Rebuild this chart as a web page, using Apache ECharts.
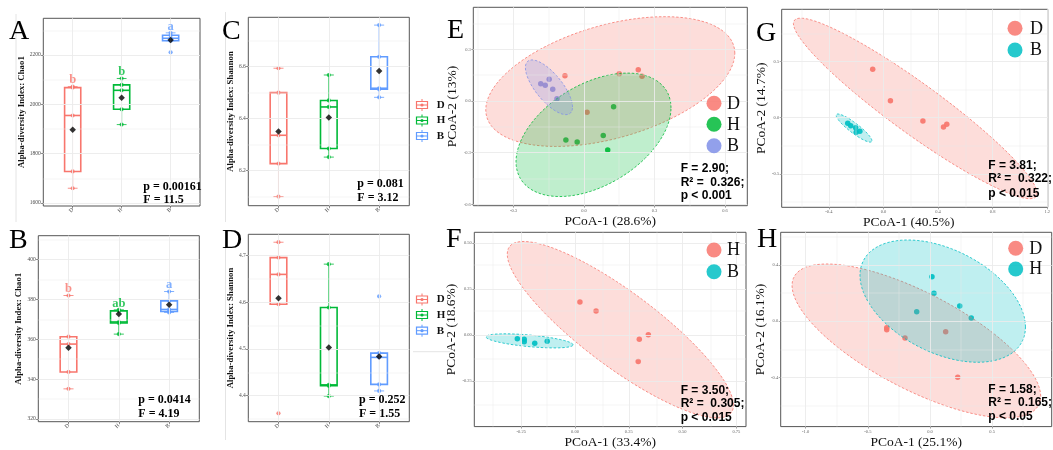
<!DOCTYPE html>
<html><head><meta charset="utf-8">
<script src="https://cdn.jsdelivr.net/npm/echarts@6/dist/echarts.min.js"></script>
<style>html,body{margin:0;padding:0;background:#fff}#c{width:1053px;height:450px}</style>
</head><body><div id="c"></div>
<script>
// ---------------- DATA ----------------
const GROUPS = ['D', 'H', 'B'];

// Panel A: Chao1 (sample 1)
const A_D = [1660, 1728, 1955, 2068, 2072];
const A_H = [1918, 1980, 2057, 2079, 2105];
const A_B = [2211, 2258, 2268, 2280, 2290];
const A_MEAN = [1897, 2027, 2261];
const A_LETTERS = ['b', 'b', 'a'];
const A_YTICKS = [1600, 1800, 2000, 2200];
const A_STATS = ['p = 0.00161', 'F = 11.5'];

// Panel B: Chao1 (sample 2)
const B_D = [335.1, 343.6, 357.6, 361.3, 382];
const B_H = [362.6, 368.2, 368.7, 374.3, 374.8];
const B_B = [373.5, 374, 375, 379.3, 384];
const B_MEAN = [355.8, 372.7, 377.3];
const B_LETTERS = ['b', 'ab', 'a'];
const B_YTICKS = [320, 340, 360, 380, 400];
const B_STATS = ['p = 0.0414', 'F = 4.19'];

// Panel C: Shannon (sample 1)
const C_D = [6.1, 6.227, 6.336, 6.5, 6.594];
const C_H = [6.252, 6.285, 6.445, 6.47, 6.568];
const C_B = [6.482, 6.513, 6.517, 6.638, 6.76];
const C_MEAN = [6.351, 6.404, 6.583];
const C_YTICKS = [6.2, 6.4, 6.6];
const C_STATS = ['p = 0.081', 'F = 3.12'];

// Panel D: Shannon (sample 2)
const D_D = [4.362, 4.596, 4.66, 4.696, 4.729];
const D_H = [4.399, 4.421, 4.423, 4.589, 4.682];
const D_B = [4.41, 4.424, 4.482, 4.491, 4.613];
const D_MEAN = [4.609, 4.503, 4.484];
const D_YTICKS = [4.4, 4.5, 4.6, 4.7];
const D_STATS = ['p = 0.252', 'F = 1.55'];

// Panel E: PCoA D / H / B
const E_D = [[-0.081, 0.147], [0.150, 0.158], [0.231, 0.182], [0.247, 0.143], [0.013, -0.066]];
const E_H = [[0.126, -0.033], [-0.077, -0.226], [-0.029, -0.238], [0.082, -0.201], [0.101, -0.284]];
const E_B = [[-0.184, 0.100], [-0.165, 0.091], [-0.148, 0.126], [-0.133, 0.068], [-0.115, 0.013]];
const E_XTICKS = [-0.3, 0, 0.3, 0.6];
const E_YTICKS = [-0.6, -0.3, 0, 0.3];
const E_STATS = ['F = 2.90;', 'R\u00B2 =  0.326;', 'p < 0.001'];

// Panel F: PCoA H / B
const F_H = [[0.023, 0.179], [0.098, 0.131], [0.299, -0.023], [0.341, 0.002], [0.294, -0.144]];
const F_B = [[-0.268, -0.020], [-0.236, -0.023], [-0.236, -0.037], [-0.187, -0.045], [-0.129, -0.034]];
const F_XTICKS = [-0.25, 0, 0.25, 0.5, 0.75];
const F_YTICKS = [-0.25, 0, 0.25, 0.5];
const F_STATS = ['F = 3.50;', 'R\u00B2 =  0.305;', 'p < 0.015'];

// Panel G: PCoA D / B
const G_D = [[-0.079, 0.431], [0.051, 0.151], [0.289, -0.029], [0.440, -0.082], [0.464, -0.059]];
const G_B = [[-0.262, -0.050], [-0.240, -0.071], [-0.204, -0.089], [-0.200, -0.130], [-0.173, -0.121]];
const G_XTICKS = [-0.4, 0, 0.4, 0.8, 1.2];
const G_YTICKS = [-0.5, 0, 0.5];
const G_STATS = ['F = 3.81;', 'R\u00B2 =  0.322;', 'p < 0.015'];

// Panel H: PCoA D / H
const H_D = [[-0.348, -0.047], [-0.348, -0.061], [-0.201, -0.119], [0.126, -0.075], [0.223, -0.398]];
const H_H = [[0.016, 0.316], [0.032, 0.199], [0.239, 0.109], [0.332, 0.023], [-0.107, 0.067]];
const H_XTICKS = [-1.0, -0.5, 0, 0.5];
const H_YTICKS = [-0.4, 0, 0.4];
const H_STATS = ['F = 1.58;', 'R\u00B2 =  0.165;', 'p < 0.05'];

// ---------------- STYLE / LAYOUT ----------------
const SERIF = "'Liberation Serif','Times New Roman',serif";
const SANS = "'Liberation Sans',Arial,sans-serif";
const BOX_COLORS = ['#F8766D', '#00BA38', '#619CFF'];
const C_SALMON = '#F8766D', C_GREEN = '#00BA38', C_PERI = '#7F8FE8', C_CYAN = '#00BFC4';
const LEVEL = 0.95;

function rgba(hex, a) {
  const n = parseInt(hex.slice(1), 16);
  return 'rgba(' + (n >> 16 & 255) + ',' + (n >> 8 & 255) + ',' + (n & 255) + ',' + a + ')';
}
function minorOf(ticks, lo, hi) {
  const out = [];
  if (ticks.length < 2) return out;
  const step = ticks[1] - ticks[0];
  const cand = [ticks[0] - step / 2];
  for (let i = 0; i < ticks.length; i++) cand.push(ticks[i] + step / 2);
  cand.forEach(v => { if (v > lo && v < hi) out.push(v); });
  return out;
}
function boxStats(vals) {
  const s = vals.slice().sort((a, b) => a - b);
  const q = p => { const h = (s.length - 1) * p, l = Math.floor(h); return s[l] + (h - l) * ((s[l + 1] !== undefined ? s[l + 1] : s[l]) - s[l]); };
  const q1 = q(0.25), med = q(0.5), q3 = q(0.75), iqr = q3 - q1;
  const inr = s.filter(v => v >= q1 - 1.5 * iqr && v <= q3 + 1.5 * iqr);
  return [Math.min.apply(null, inr), q1, med, q3, Math.max.apply(null, inr)];
}
function ellipsePts(pts) {
  const n = pts.length;
  let mx = 0, my = 0;
  pts.forEach(p => { mx += p[0]; my += p[1]; });
  mx /= n; my /= n;
  let sxx = 0, syy = 0, sxy = 0;
  pts.forEach(p => { const dx = p[0] - mx, dy = p[1] - my; sxx += dx * dx; syy += dy * dy; sxy += dx * dy; });
  sxx /= (n - 1); syy /= (n - 1); sxy /= (n - 1);
  const d = n - 1;
  const fq = d / 2 * (Math.pow(1 - LEVEL, -2 / d) - 1);
  const r = Math.sqrt(2 * fq);
  const l11 = Math.sqrt(sxx), l21 = sxy / l11, l22 = Math.sqrt(Math.max(syy - l21 * l21, 0));
  const out = [];
  for (let k = 0; k <= 90; k++) {
    const t = 2 * Math.PI * k / 90, c = Math.cos(t), s = Math.sin(t);
    out.push([mx + r * l11 * c, my + r * (l21 * c + l22 * s)]);
  }
  return out;
}

const boxPanels = [
  { letter: 'A', groups: [A_D, A_H, A_B], means: A_MEAN, letters: A_LETTERS, yticks: A_YTICKS, dec: 0,
    frame: [43.3, 18.3, 200, 206], ymin: 1588, ymax: 2349, yname: 'Alpha-diversity Index: Chao1', gap: 17,
    stats: A_STATS, statXY: [143.3, 186.5, 200], letXY: [9, 32] },
  { letter: 'B', groups: [B_D, B_H, B_B], means: B_MEAN, letters: B_LETTERS, yticks: B_YTICKS, dec: 0,
    frame: [38.3, 235.7, 199.3, 421.7], ymin: 318.6, ymax: 412.05, yname: 'Alpha-diversity Index: Chao1', gap: 14.5,
    stats: B_STATS, statXY: [138.3, 400, 414], letXY: [9, 241] },
  { letter: 'C', groups: [C_D, C_H, C_B], means: C_MEAN, letters: null, yticks: C_YTICKS, dec: 1,
    frame: [248.3, 17.3, 409.3, 205.7], ymin: 6.065, ymax: 6.790, yname: 'Alpha-diversity Index: Shannon', gap: 12,
    stats: C_STATS, statXY: [357.3, 184, 198], letXY: [222, 32], legY: [105, 120.5, 136] },
  { letter: 'D', groups: [D_D, D_H, D_B], means: D_MEAN, letters: null, yticks: D_YTICKS, dec: 1,
    frame: [248.3, 234.3, 409.3, 421.7], ymin: 4.344, ymax: 4.746, yname: 'Alpha-diversity Index: Shannon', gap: 13,
    stats: D_STATS, statXY: [359, 400, 414], letXY: [222, 240.5], legY: [299.5, 315, 330.7] }
];

const pcoaPanels = [
  { letter: 'E', frame: [473.3, 7.3, 747.3, 205.7], x: [-0.471, 0.695], y: [-0.608, 0.544],
    xticks: E_XTICKS, yticks: E_YTICKS, dx: 1, dy: 1, xname: 'PCoA-1 (28.6%)', yname: 'PCoA-2 (13%)',
    groups: [{ n: 'D', p: E_D, c: C_SALMON }, { n: 'H', p: E_H, c: C_GREEN }, { n: 'B', p: E_B, c: C_PERI }],
    stats: E_STATS, statX: 680.7, statY: [169, 182.7, 195.7], leg: [714, 727, [103.3, 124.3, 145.7]], letXY: [447, 31], xgap: 7, ygap: 6.6, xpad: 0 },
  { letter: 'F', frame: [474.3, 232.3, 746, 432.3], x: [-0.468, 0.795], y: [-0.498, 0.5585],
    xticks: F_XTICKS, yticks: F_YTICKS, dx: 2, dy: 2, xname: 'PCoA-1 (33.4%)', yname: 'PCoA-2 (18.6%)',
    groups: [{ n: 'H', p: F_H, c: C_SALMON }, { n: 'B', p: F_B, c: C_CYAN }],
    stats: F_STATS, statX: 680.7, statY: [390.7, 404, 417.3], leg: [714, 727, [250, 271.7]], letXY: [446, 240], xgap: 6, ygap: 7, xpad: 0 },
  { letter: 'G', frame: [781.7, 9.3, 1051.7, 207.3], x: [-0.746, 1.204], y: [-0.797, 0.964],
    xticks: G_XTICKS, yticks: G_YTICKS, dx: 1, dy: 1, xname: 'PCoA-1 (40.5%)', yname: 'PCoA-2 (14.7%)',
    groups: [{ n: 'D', p: G_D, c: C_SALMON }, { n: 'B', p: G_B, c: C_CYAN }],
    stats: G_STATS, statX: 988.3, statY: [165.7, 179, 193.3], leg: [1015, 1030, [28.3, 50]], letXY: [756, 33.5], xgap: 6, ygap: 6, xpad: 12 },
  { letter: 'H', frame: [780.7, 232.3, 1051.7, 429], x: [-1.201, 0.979], y: [-0.749, 0.632],
    xticks: H_XTICKS, yticks: H_YTICKS, dx: 1, dy: 1, xname: 'PCoA-1 (25.1%)', yname: 'PCoA-2 (16.1%)',
    groups: [{ n: 'D', p: H_D, c: C_SALMON }, { n: 'H', p: H_H, c: C_CYAN }],
    stats: H_STATS, statX: 988.3, statY: [389.3, 402.7, 416.7], leg: [1015.7, 1029.3, [248.3, 269]], letXY: [757, 239.5], xgap: 7, ygap: 5, xpad: 0 }
];

// ---------------- BUILD ----------------
const grids = [], xAxes = [], yAxes = [], series = [], gfx = [];

function gridLineSeries(gi, xMaj, xMin, yMaj, yMin) {
  const d = [];
  xMin.forEach(v => d.push({ xAxis: v, lineStyle: { width: 0.45 } }));
  yMin.forEach(v => d.push({ yAxis: v, lineStyle: { width: 0.45 } }));
  xMaj.forEach(v => d.push({ xAxis: v, lineStyle: { width: 0.9 } }));
  yMaj.forEach(v => d.push({ yAxis: v, lineStyle: { width: 0.9 } }));
  return { type: 'scatter', xAxisIndex: gi, yAxisIndex: gi, data: [], silent: true, z: 1,
    markLine: { silent: true, symbol: ['none', 'none'], label: { show: false }, animation: false,
      lineStyle: { color: '#EBEBEB', type: 'solid' }, emphasis: { disabled: true }, data: d } };
}
function addGrid(fr) {
  grids.push({ left: fr[0], top: fr[1], width: fr[2] - fr[0], height: fr[3] - fr[1], show: true,
    borderColor: '#555', borderWidth: 1, backgroundColor: '#fff', containLabel: false });
  return grids.length - 1;
}
function txt(x, y, text, font, fill, align, valign) {
  gfx.push({ type: 'text', x: x, y: y, silent: true, z: 100,
    style: { text: text, font: font, fill: fill || '#000', align: align || 'left', verticalAlign: valign || 'middle' } });
}

boxPanels.forEach(P => {
  const gi = addGrid(P.frame);
  const fmt = v => P.dec ? v.toFixed(P.dec) : String(Math.round(v));
  xAxes.push({ gridIndex: gi, type: 'value', min: 0.4, max: 3.6,
    axisLine: { show: false, onZero: false }, splitLine: { show: false },
    axisTick: { show: true, customValues: [1, 2, 3], length: 2.5, lineStyle: { color: '#444', width: 0.6 } },
    axisLabel: { customValues: [1, 2, 3], formatter: v => GROUPS[Math.round(v) - 1], rotate: 45, fontSize: 5.5,
      margin: 3, color: '#4d4d4d', fontFamily: SERIF } });
  yAxes.push({ gridIndex: gi, type: 'value', min: P.ymin, max: P.ymax,
    axisLine: { show: false, onZero: false }, splitLine: { show: false },
    axisTick: { show: true, customValues: P.yticks, length: 2.5, lineStyle: { color: '#444', width: 0.6 } },
    axisLabel: { customValues: P.yticks, formatter: fmt, fontSize: 5.5, margin: 2.5, color: '#4d4d4d', fontFamily: SERIF },
    name: P.yname, nameLocation: 'middle', nameGap: P.gap,
    nameTextStyle: { fontFamily: SERIF, fontWeight: 'bold', fontSize: 8.8, color: '#111' } });
  series.push(gridLineSeries(gi, [1, 2, 3], [], P.yticks, minorOf(P.yticks, P.ymin, P.ymax)));
  const stats = P.groups.map(boxStats);
  series.push({ type: 'custom', xAxisIndex: gi, yAxisIndex: gi, z: 3, silent: true,
    data: stats.map((s, i) => [i + 1].concat(s)),
    renderItem: function (params, api) {
      const x = api.value(0), c = BOX_COLORS[params.dataIndex];
      const lo = api.coord([x, api.value(1)]), q1 = api.coord([x, api.value(2)]), md = api.coord([x, api.value(3)]),
        q3 = api.coord([x, api.value(4)]), hi = api.coord([x, api.value(5)]);
      const u = api.size([1, 0])[0], bw = u * 0.33, cw = u * 0.2;
      return { type: 'group', children: [
        { type: 'line', shape: { x1: lo[0], y1: lo[1], x2: hi[0], y2: hi[1] }, style: { stroke: c, lineWidth: 1, opacity: 0.8 } },
        { type: 'line', shape: { x1: lo[0] - cw / 2, y1: lo[1], x2: lo[0] + cw / 2, y2: lo[1] }, style: { stroke: c, lineWidth: 1, opacity: 0.8 } },
        { type: 'line', shape: { x1: hi[0] - cw / 2, y1: hi[1], x2: hi[0] + cw / 2, y2: hi[1] }, style: { stroke: c, lineWidth: 1, opacity: 0.8 } },
        { type: 'rect', shape: { x: q3[0] - bw / 2, y: q3[1], width: bw, height: q1[1] - q3[1] },
          style: { fill: 'rgba(255,255,255,0.82)', stroke: c, lineWidth: 1.6 } },
        { type: 'line', shape: { x1: md[0] - bw / 2, y1: md[1], x2: md[0] + bw / 2, y2: md[1] }, style: { stroke: c, lineWidth: 1.6 } }
      ] };
    } });
  P.groups.forEach((g, i) => {
    series.push({ type: 'scatter', xAxisIndex: gi, yAxisIndex: gi, z: 4, silent: true, symbolSize: 4.2,
      itemStyle: { color: BOX_COLORS[i] }, data: g.map(v => [i + 1, v]) });
  });
  series.push({ type: 'scatter', xAxisIndex: gi, yAxisIndex: gi, z: 5, silent: true, symbol: 'diamond', symbolSize: 6.5,
    itemStyle: { color: '#000' }, data: P.means.map((m, i) => [i + 1, m]) });
  if (P.letters) {
    series.push({ type: 'scatter', xAxisIndex: gi, yAxisIndex: gi, z: 6, silent: true, symbolSize: 0,
      data: P.letters.map((l, i) => ({ value: [i + 1, stats[i][4]], name: l,
        label: { show: true, formatter: '{b}', position: 'top', distance: 0, color: BOX_COLORS[i],
          fontFamily: SERIF, fontWeight: 'bold', fontSize: 12.5 } })) });
  }
  txt(P.statXY[0], P.statXY[1], P.stats[0], 'bold 12px ' + SERIF, '#000');
  txt(P.statXY[0], P.statXY[2], P.stats[1], 'bold 12px ' + SERIF, '#000');
  txt(P.letXY[0], P.letXY[1], P.letter, '28px ' + SERIF, '#000');
  if (P.legY) {
    P.legY.forEach((yy, i) => {
      const c = BOX_COLORS[i];
      gfx.push({ type: 'line', silent: true, z: 100, shape: { x1: 422, y1: yy - 6, x2: 422, y2: yy + 6 }, style: { stroke: c, lineWidth: 1 } });
      gfx.push({ type: 'rect', silent: true, z: 101, shape: { x: 416.5, y: yy - 3.5, width: 11, height: 7 }, style: { fill: '#fff', stroke: c, lineWidth: 1.2 } });
      gfx.push({ type: 'line', silent: true, z: 102, shape: { x1: 416.5, y1: yy, x2: 427.5, y2: yy }, style: { stroke: c, lineWidth: 1 } });
      gfx.push({ type: 'circle', silent: true, z: 103, shape: { cx: 422, cy: yy, r: 1.6 }, style: { fill: c } });
      txt(436.8, yy, GROUPS[i], 'bold 11px ' + SERIF, '#111');
    });
  }
});

pcoaPanels.forEach(P => {
  const gi = addGrid(P.frame);
  xAxes.push({ gridIndex: gi, type: 'value', min: P.x[0], max: P.x[1],
    axisLine: { show: false, onZero: false }, splitLine: { show: false },
    axisTick: { show: true, customValues: P.xticks, length: 2, lineStyle: { color: '#555', width: 0.5 } },
    axisLabel: { customValues: P.xticks, formatter: v => v.toFixed(P.dx), fontSize: 4.5, margin: 2.5, color: '#666', fontFamily: SERIF },
    name: P.xname, nameLocation: 'middle', nameGap: P.xgap,
    nameTextStyle: { fontFamily: SERIF, fontSize: 13.5, color: '#111', verticalAlign: 'top', padding: [0, P.xpad, 0, 0] } });
  yAxes.push({ gridIndex: gi, type: 'value', min: P.y[0], max: P.y[1],
    axisLine: { show: false, onZero: false }, splitLine: { show: false },
    axisTick: { show: true, customValues: P.yticks, length: 2, lineStyle: { color: '#555', width: 0.5 } },
    axisLabel: { customValues: P.yticks, formatter: v => v.toFixed(P.dy), fontSize: 4.5, margin: 2.5, color: '#666', fontFamily: SERIF },
    name: P.yname, nameLocation: 'middle', nameGap: P.ygap,
    nameTextStyle: { fontFamily: SERIF, fontSize: 13.5, color: '#111' } });
  series.push(gridLineSeries(gi, P.xticks, minorOf(P.xticks, P.x[0], P.x[1]), P.yticks, minorOf(P.yticks, P.y[0], P.y[1])));
  P.groups.forEach(g => {
    series.push({ type: 'scatter', xAxisIndex: gi, yAxisIndex: gi, z: 2, silent: true, symbolSize: 5.5,
      itemStyle: { color: g.c, opacity: 0.92 }, data: g.p });
  });
  P.groups.forEach(g => {
    series.push({ type: 'custom', xAxisIndex: gi, yAxisIndex: gi, z: 3, silent: true, clip: true,
      data: [[0, 0]],
      renderItem: function (params, api) {
        const poly = ellipsePts(g.p).map(p => api.coord(p));
        return { type: 'polygon', shape: { points: poly },
          style: { fill: rgba(g.c, 0.25), stroke: g.c, lineWidth: 0.8, lineDash: [2.5, 1.8] } };
      } });
  });
  P.groups.forEach((g, i) => {
    gfx.push({ type: 'circle', silent: true, z: 100, shape: { cx: P.leg[0], cy: P.leg[2][i], r: 7.5 },
      style: { fill: g.c, opacity: 0.85 } });
    txt(P.leg[1], P.leg[2][i] + 0.5, g.n, '18px ' + SERIF, '#111');
  });
  P.stats.forEach((s, i) => txt(P.statX, P.statY[i], s, 'bold 12px ' + SANS, '#000'));
  txt(P.letXY[0], P.letXY[1], P.letter, '28px ' + SERIF, '#000');
});

// faint separator lines from the composed figure
[[16, 14, 16, 222], [225.5, 12, 225.5, 222], [225.5, 230, 225.5, 440], [413, 351.7, 450, 351.7]].forEach(l => {
  gfx.push({ type: 'line', silent: true, z: 0, shape: { x1: l[0], y1: l[1], x2: l[2], y2: l[3] }, style: { stroke: '#e4e4e4', lineWidth: 1 } });
});

const chart = echarts.init(document.getElementById('c'), null, { renderer: 'canvas' });
chart.setOption({
  animation: false,
  backgroundColor: '#fff',
  grid: grids, xAxis: xAxes, yAxis: yAxes, series: series,
  graphic: { elements: gfx }
});
</script></body></html>
